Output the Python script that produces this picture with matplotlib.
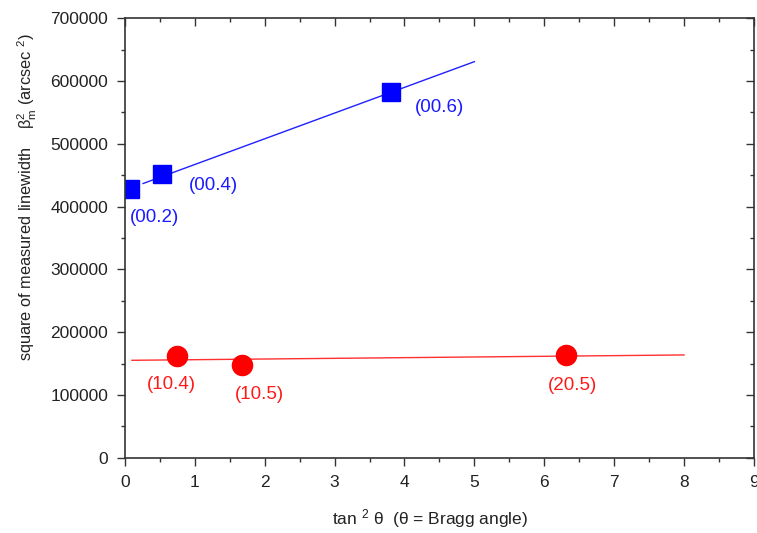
import matplotlib
matplotlib.use("Agg")
import matplotlib.pyplot as plt
from matplotlib.ticker import MultipleLocator

plt.rcParams['font.family'] = ['Liberation Sans', 'DejaVu Sans']
plt.rcParams['mathtext.fontset'] = 'custom'
plt.rcParams['mathtext.rm'] = 'Liberation Sans'
plt.rcParams['mathtext.it'] = 'Liberation Sans'

# data
blue_x = [0.07, 0.53, 3.81]
blue_y = [428000, 452000, 583000]
blue_labels = ['(00.2)', '(00.4)', '(00.6)']
blue_fit_x = [0.26, 5.0]
blue_fit_y = [436700, 630700]

red_x = [0.74, 1.68, 6.31]
red_y = [162500, 148500, 163300]
red_labels = ['(10.4)', '(10.5)', '(20.5)']
red_fit_x = [0.1, 8.0]
red_fit_y = [155300, 163800]

x_ticks = [0, 1, 2, 3, 4, 5, 6, 7, 8, 9]
y_ticks = [0, 100000, 200000, 300000, 400000, 500000, 600000, 700000]

fig = plt.figure(figsize=(7.57, 5.33), dpi=100)
ax = fig.add_axes([0.165, 0.141, 0.831, 0.825])

ax.plot(blue_fit_x, blue_fit_y, color='#2020ff', lw=1.0)
ax.plot(red_fit_x, red_fit_y, color='#ff3030', lw=1.0)
ax.plot(blue_x, blue_y, 's', color='#0000ff', ms=12.5, ls='none')
ax.plot(red_x, red_y, 'o', color='#ff0000', ms=14.5, ls='none')

blue_off = [(25, -29), (51, -12), (48, -16)]
red_off = [(-5, -29), (17, -30), (7, -30)]
for x, y, t, o in zip(blue_x, blue_y, blue_labels, blue_off):
    ax.annotate(t, (x, y), xytext=o, textcoords='offset pixels',
                ha='center', va='center', color='#1a1aff', fontsize=13.5)
for x, y, t, o in zip(red_x, red_y, red_labels, red_off):
    ax.annotate(t, (x, y), xytext=o, textcoords='offset pixels',
                ha='center', va='center', color='#ff1a1a', fontsize=13.5)

ax.set_xlim(0, 9)
ax.set_ylim(0, 700000)
ax.set_xticks(x_ticks)
ax.set_yticks(y_ticks)
ax.set_xticklabels([str(v) for v in x_ticks])
ax.set_yticklabels([str(v) for v in y_ticks])
ax.xaxis.set_minor_locator(MultipleLocator(0.5))
ax.yaxis.set_minor_locator(MultipleLocator(50000))
ax.tick_params(which='both', direction='out', colors='#333333', labelcolor='#222222',
               labelsize=12.5, top=False, right=False, width=1)
ax.tick_params(which='major', length=6, pad=6)
ax.tick_params(which='minor', length=3)
for s in ax.spines.values():
    s.set_color('#333333')
    s.set_linewidth(1.2)

secx = ax.secondary_xaxis('top')
secx.set_xticks(x_ticks)
secx.xaxis.set_minor_locator(MultipleLocator(0.5))
secx.tick_params(which='both', direction='in', labeltop=False, colors='#333333', width=1)
secx.tick_params(which='major', length=6)
secx.tick_params(which='minor', length=3)
secx.spines['top'].set_visible(False)

secy = ax.secondary_yaxis('right')
secy.set_yticks(y_ticks)
secy.yaxis.set_minor_locator(MultipleLocator(50000))
secy.tick_params(which='both', direction='in', labelright=False, colors='#333333', width=1)
secy.tick_params(which='major', length=6)
secy.tick_params(which='minor', length=3)
secy.spines['right'].set_visible(False)

fig.text(0.568, 0.028, r'tan $^{2}$ θ  (θ = Bragg angle)', ha='center', va='center',
         fontsize=12.5, color='#222222')
fig.text(0.036, 0.63, r'square of measured linewidth    β$_{m}^{2}$ (arcsec $^{2}$)',
         rotation=90, ha='center', va='center', fontsize=11.8, color='#222222')

fig.savefig('out.png', dpi=100)
